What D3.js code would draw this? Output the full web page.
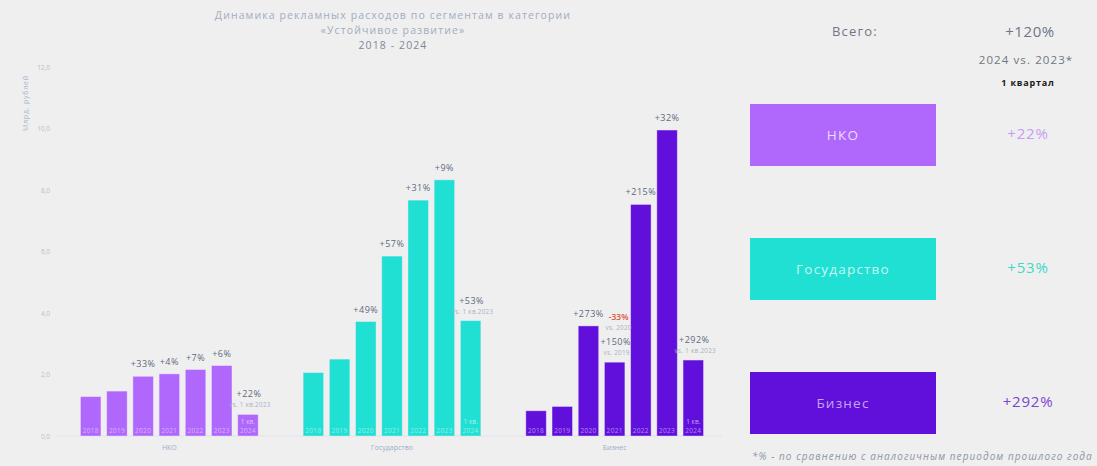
<!DOCTYPE html>
<html lang="ru">
<head>
<meta charset="utf-8">
<script src="https://cdn.jsdelivr.net/npm/d3@7"></script>
<style>
  html, body { margin: 0; padding: 0; background: #efefef; }
  svg { display: block; font-family: "Open Sans", "Noto Sans", sans-serif; }
</style>
</head>
<body>
<svg id="chart" width="1097" height="466"></svg>
<script>
// ---- data -------------------------------------------------------------
const categories = ["НКО", "Государство", "Бизнес"];
const years = ["2018", "2019", "2020", "2021", "2022", "2023", "2024"];
// млрд рублей; 2024 = 1 квартал
const nkoValues = [1.28, 1.46, 1.94, 2.02, 2.16, 2.29, 0.70];
const govValues = [2.06, 2.50, 3.72, 5.85, 7.67, 8.33, 3.75];
const bizValues = [0.82, 0.96, 3.58, 2.40, 7.53, 9.95, 2.47];
// year-over-year growth labels
const nkoLabels = [null, null, "+33%", "+4%", "+7%", "+6%", "+22%"];
const govLabels = [null, null, "+49%", "+57%", "+31%", "+9%", "+53%"];
const bizLabels = [null, null, "+273%", "+150%", "+215%", "+32%", "+292%"];
const yTicks = [0, 2, 4, 6, 8, 10, 12];
const segmentChanges = ["+22%", "+53%", "+292%"];
const totalChange = "+120%";

const colors = ["#b067fb", "#1fe0d2", "#6110dc"];
const changeColors = ["#c69cf5", "#3fd8c9", "#7b45cf"];
const boxTextColors = ["#ecdcff", "#c9f7f2", "#c3a6f2"];

const series = [nkoValues, govValues, bizValues];
const seriesLabels = [nkoLabels, govLabels, bizLabels];

const svg = d3.select("#chart");

// ---- scales -----------------------------------------------------------
const y = d3.scaleLinear().domain([0, 12]).range([436, 67]);
const x0 = d3.scaleBand().domain(categories).range([58, 726]).padding(0);
const x1 = d3.scaleBand().domain(years)
  .range([22.5, x0.bandwidth() - 22.5]).paddingInner(0.22).paddingOuter(0);

// ---- title ------------------------------------------------------------
const title = svg.append("text").attr("text-anchor", "middle")
  .attr("font-size", 10.5).attr("letter-spacing", 1.1).attr("fill", "#a2adc0");
title.append("tspan").attr("x", 393).attr("y", 19)
  .text("Динамика рекламных расходов по сегментам в категории");
title.append("tspan").attr("x", 393).attr("y", 34).text("«Устойчивое развитие»");
title.append("tspan").attr("x", 393).attr("y", 49).attr("fill", "#7d8899").text("2018 - 2024");

// ---- y axis -----------------------------------------------------------
const yAxis = svg.append("g").attr("transform", "translate(50,0)")
  .call(d3.axisLeft(y).tickValues(yTicks).tickSize(0).tickPadding(0)
    .tickFormat(d => d3.format(".1f")(d).replace(".", ",")));
yAxis.select(".domain").remove();
yAxis.selectAll("text").attr("fill", "#b8c0cc").attr("font-size", 6.5)
  .attr("font-family", "'Open Sans', sans-serif");

svg.append("text").attr("transform", "translate(28,103) rotate(-90)")
  .attr("text-anchor", "middle").attr("font-size", 7).attr("letter-spacing", 0.8)
  .attr("fill", "#a7b4cc").text("Млрд. рублей");

// baseline
svg.append("line").attr("x1", 56).attr("x2", 722)
  .attr("y1", y(0)).attr("y2", y(0)).attr("stroke", "#dfe3ea").attr("stroke-width", 1);

// ---- bars -------------------------------------------------------------
const groups = svg.selectAll("g.seg").data(categories).enter().append("g")
  .attr("class", "seg").attr("transform", d => `translate(${x0(d)},0)`);

groups.each(function (cat, ci) {
  const g = d3.select(this);
  const vals = series[ci];
  const labs = seriesLabels[ci];

  g.selectAll("rect").data(vals).enter().append("rect")
    .attr("x", (d, i) => x1(years[i]))
    .attr("y", d => y(d))
    .attr("width", x1.bandwidth())
    .attr("height", d => y(0) - y(d))
    .attr("fill", colors[ci])
    .attr("stroke", "#f4e8ff").attr("stroke-opacity", 0.5).attr("stroke-width", 0.8);

  // year inside bar
  g.selectAll("text.yr").data(vals).enter().append("text").attr("class", "yr")
    .attr("x", (d, i) => x1(years[i]) + x1.bandwidth() / 2)
    .attr("y", y(0) - 3).attr("text-anchor", "middle")
    .attr("font-size", 6.5).attr("letter-spacing", 0.3)
    .attr("fill", "#ffffff").attr("fill-opacity", 0.5)
    .text((d, i) => years[i]);
  g.append("text")
    .attr("x", x1(years[6]) + x1.bandwidth() / 2).attr("y", y(0) - 12)
    .attr("text-anchor", "middle").attr("font-size", 6.5)
    .attr("fill", "#ffffff").attr("fill-opacity", 0.6).text("1 кв.");

  // growth labels
  vals.forEach((v, i) => {
    const lab = labs[i];
    if (!lab) return;
    const cx = x1(years[i]) + x1.bandwidth() / 2;
    const top = y(v);
    const withNote = i === 6 || (ci === 2 && i === 3);
    g.append("text").attr("x", cx + (withNote ? 1 : 0))
      .attr("y", withNote ? top - 17 : top - 9)
      .attr("text-anchor", "middle").attr("font-size", 9).attr("letter-spacing", 0.5)
      .attr("fill", "#5d6a80").text(lab);
    if (withNote) {
      g.append("text").attr("x", cx + 2).attr("y", top - 7)
        .attr("text-anchor", "middle").attr("font-size", 6.3).attr("letter-spacing", 0.3)
        .attr("fill", "#a9b1bf").text(i === 6 ? "vs. 1 кв.2023" : "vs. 2019");
    }
    if (ci === 2 && i === 3) {
      g.append("text").attr("x", cx + 4).attr("y", top - 42)
        .attr("text-anchor", "middle").attr("font-size", 8.5).attr("font-weight", 600)
        .attr("fill", "#e0553f").text("-33%");
      g.append("text").attr("x", cx + 4).attr("y", top - 32)
        .attr("text-anchor", "middle").attr("font-size", 6.3).attr("letter-spacing", 0.3)
        .attr("fill", "#a9b1bf").text("vs. 2020");
    }
  });

  // category label
  g.append("text").attr("x", x0.bandwidth() / 2).attr("y", 450)
    .attr("text-anchor", "middle").attr("font-size", 7).attr("fill", "#9cadca")
    .text(cat);
});

// ---- summary panel ----------------------------------------------------
svg.append("text").attr("x", 855).attr("y", 36).attr("text-anchor", "middle")
  .attr("font-size", 13).attr("letter-spacing", 1.2).attr("fill", "#6f7684").text("Всего:");
svg.append("text").attr("x", 1030).attr("y", 37).attr("text-anchor", "middle")
  .attr("font-size", 15).attr("letter-spacing", 0.6).attr("fill", "#6f7684").text(totalChange);
svg.append("text").attr("x", 1026).attr("y", 64).attr("text-anchor", "middle")
  .attr("font-size", 11.5).attr("letter-spacing", 1.1).attr("fill", "#6f7684").text("2024 vs. 2023*");
svg.append("text").attr("x", 1028).attr("y", 86).attr("text-anchor", "middle")
  .attr("font-size", 9).attr("letter-spacing", 0.8).attr("font-weight", 700)
  .attr("fill", "#1a1a1a").text("1 квартал");

const boxY = d3.scalePoint().domain(categories).range([104, 372]);
const boxes = svg.selectAll("g.box").data(categories).enter().append("g")
  .attr("class", "box").attr("transform", d => `translate(750,${boxY(d)})`);
boxes.append("rect").attr("width", 186).attr("height", 62)
  .attr("fill", (d, i) => colors[i]);
boxes.append("text").attr("x", 93).attr("y", 35.5).attr("text-anchor", "middle")
  .attr("font-size", 13.5).attr("letter-spacing", 1.2)
  .attr("fill", (d, i) => boxTextColors[i]).text(d => d);
boxes.append("text").attr("x", 278).attr("y", 34.5).attr("text-anchor", "middle")
  .attr("font-size", 15).attr("letter-spacing", 0.8)
  .attr("fill", (d, i) => changeColors[i])
  .text((d, i) => segmentChanges[i]);

svg.append("text").attr("x", 752).attr("y", 460)
  .attr("font-size", 10).attr("letter-spacing", 1.05).attr("font-style", "italic")
  .attr("fill", "#8d96a6")
  .text("*% - по сравнению с аналогичным периодом прошлого года");
</script>
</body>
</html>
